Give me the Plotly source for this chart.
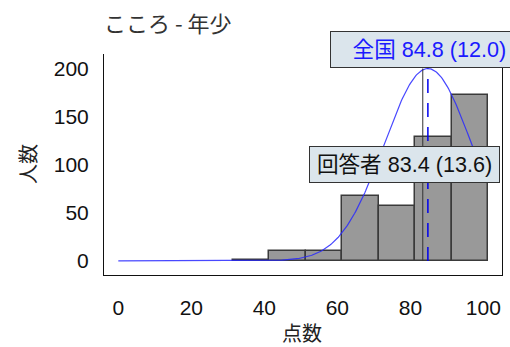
import numpy as np
import plotly.graph_objects as go

# ---- data ----
bin_starts = [31.4, 41.4, 51.4, 61.3, 71.3, 81.3, 91.3]
bin_width = 9.98
counts = [1, 10, 10, 68, 57, 129, 173]

national_mean = 84.8
national_sd = 12.0
resp_mean = 83.4
resp_sd = 13.6
curve_peak = 200

x_ticks = [0, 20, 40, 60, 80, 100]
y_ticks = [0, 50, 100, 150, 200]

title_text = "こころ - 年少"
national_label = f"全国 {national_mean:.1f} ({national_sd:.1f})"
resp_label = f"回答者 {resp_mean:.1f} ({resp_sd:.1f})"

FONT = "Liberation Sans, Arial, Noto Sans CJK JP"
CJK = "Noto Sans CJK JP"

X0, X1 = -3.92, 105.1
Y0, Y1 = -14.6, 215.1

fig = go.Figure()

centers = [b + bin_width / 2 for b in bin_starts]
fig.add_trace(go.Bar(
    x=centers, y=counts, width=[bin_width] * len(counts),
    marker=dict(color="#999999", line=dict(color="#3a3a3a", width=1.5)),
    hoverinfo="skip",
))

# normal curve for national distribution
cx = np.linspace(0, 100, 401)
cy = curve_peak * np.exp(-((cx - national_mean) ** 2) / (2 * national_sd ** 2))
fig.add_trace(go.Scatter(x=cx, y=cy, mode="lines",
                         line=dict(color="rgba(40,40,255,0.85)", width=1.2),
                         hoverinfo="skip"))

# respondent mean line
fig.add_trace(go.Scatter(x=[resp_mean, resp_mean], y=[0, curve_peak], mode="lines",
                         line=dict(color="#333333", width=1), hoverinfo="skip"))
# national mean dashed line
fig.add_trace(go.Scatter(x=[national_mean, national_mean], y=[0, curve_peak], mode="lines",
                         line=dict(color="#0000ee", width=1.5, dash="14px,10px"),
                         hoverinfo="skip"))

fig.update_layout(
    width=510, height=347,
    margin=dict(l=104, r=8, t=54, b=72, autoexpand=False),
    paper_bgcolor="white", plot_bgcolor="white",
    showlegend=False, bargap=0,
    font=dict(family=FONT, size=21, color="#111111"),
)
fig.update_xaxes(
    range=[X0, X1], tickvals=x_ticks, ticks="", showgrid=False, zeroline=False,
    showline=True, linecolor="#111111", linewidth=1, mirror=False, automargin=False,
    tickfont=dict(family=FONT, size=21, color="#111111"), ticklabelstandoff=14,
)
fig.update_yaxes(
    range=[Y0, Y1], tickvals=y_ticks, ticks="", showgrid=False, zeroline=False,
    showline=True, linecolor="#111111", linewidth=1, mirror=True, automargin=False,
    tickfont=dict(family=FONT, size=21, color="#111111"), ticklabelstandoff=10,
)

def yp(v):
    return (v - Y0) / (Y1 - Y0)

def xp(v):
    return (v - X0) / (X1 - X0)

annotations = [
    dict(text=title_text, xref="paper", yref="paper", x=-0.005, y=1 + (54 - 22) / 221,
         xanchor="left", yanchor="middle", showarrow=False,
         font=dict(family=CJK, size=22, color="#333333")),
    dict(text="人数", xref="paper", yref="paper", x=(27 - 104) / 398, y=(275 - 164) / 221,
         xanchor="center", yanchor="middle", textangle=-90, showarrow=False,
         font=dict(family=CJK, size=20, color="#222222")),
    dict(text="点数", xref="paper", yref="paper", x=(302 - 104) / 398, y=-(332 - 275) / 221,
         xanchor="center", yanchor="middle", showarrow=False,
         font=dict(family=CJK, size=20, color="#222222")),
    dict(text=national_label, x=(330 - 104) / 398, y=yp(220.2), xref="paper", yref="paper",
         xanchor="left", yanchor="middle", showarrow=False, align="left",
         width=196, height=35, borderpad=0, borderwidth=1,
         bgcolor="#dbe5ec", bordercolor="#333333",
         text_=None,
         font=dict(family=FONT, size=21.6, color="#1a1aff")),
    dict(text=resp_label, x=xp(78.4), y=yp(100.1), xref="paper", yref="paper",
         xanchor="center", yanchor="middle", showarrow=False,
         width=189, height=35, borderpad=0, borderwidth=1,
         bgcolor="#dbe5ec", bordercolor="#333333",
         font=dict(family=FONT, size=21.6, color="#111111")),
]
for a in annotations:
    a.pop("text_", None)
# national label: indent text inside its box
annotations[3]["text"] = "\u2003" + national_label
fig.update_layout(annotations=annotations)

fig.write_html("out.html", config={"displayModeBar": False},
               post_script="document.body.style.margin='0';document.body.style.overflow='hidden';")
